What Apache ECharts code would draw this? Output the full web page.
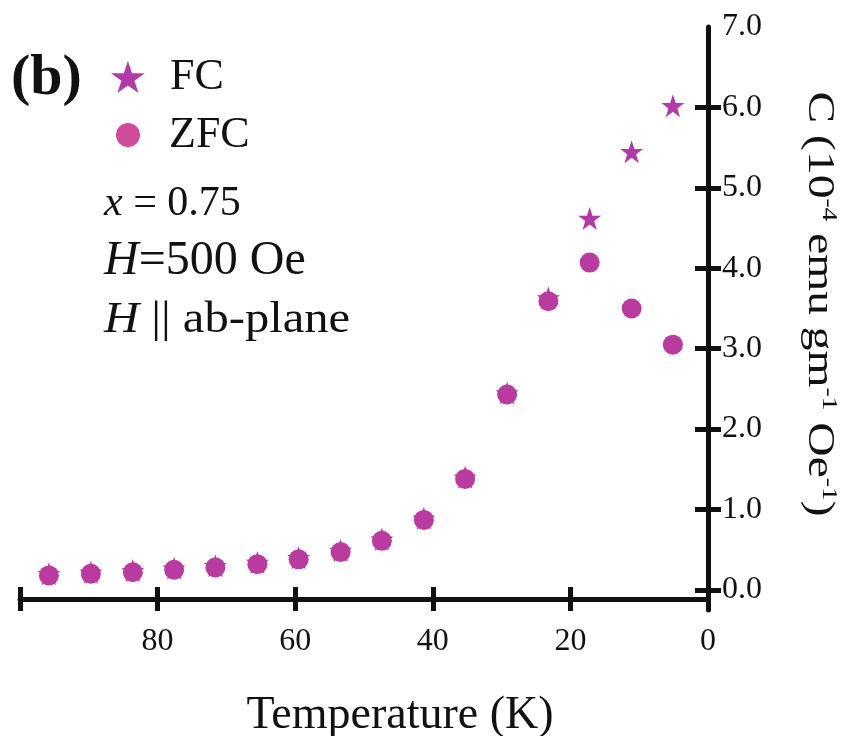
<!DOCTYPE html>
<html>
<head>
<meta charset="utf-8">
<title>FC / ZFC susceptibility</title>
<script src="https://cdn.jsdelivr.net/npm/echarts@6/dist/echarts.min.js"></script>
<style>
  html, body { margin: 0; padding: 0; background: #fff; }
  #chart { width: 847px; height: 736px; }
</style>
</head>
<body>
<div id="chart"></div>
<script>
// temperatures (K) of the measured points
var temps = [5.1, 11.1, 17.2, 23.2, 29.2, 35.3, 41.3, 47.4, 53.4, 59.5, 65.5, 71.6, 77.6, 83.6, 89.7, 95.8];
// susceptibility, 10^-4 emu gm^-1 Oe^-1
var fcVals  = [6.02, 5.45, 4.62, 3.63, 2.45, 1.40, 0.89, 0.63, 0.49, 0.40, 0.34, 0.30, 0.27, 0.24, 0.22, 0.20];
var zfcVals = [3.05, 3.50, 4.07, 3.59, 2.43, 1.38, 0.87, 0.61, 0.47, 0.38, 0.32, 0.28, 0.25, 0.22, 0.20, 0.18];
var yTicks  = [0, 1, 2, 3, 4, 5, 6];
var yLabels = [0, 1, 2, 3, 4, 5, 6, 7];

var STAR = 'path://M50,0 L61.8,35.1 L98.6,35.1 L68.8,56.8 L80.2,91.9 L50,70.2 L19.8,91.9 L31.2,56.8 L1.4,35.1 L38.2,35.1 Z';
var FONT = '"Liberation Serif", "DejaVu Serif", serif';

function pairs(xs, ys) {
    var out = [];
    for (var i = 0; i < xs.length; i++) out.push([xs[i], ys[i]]);
    return out;
}

var myChart = echarts.init(document.getElementById('chart'));

var lineStyle = { color: '#111', width: 5 };

var option = {
    backgroundColor: '#fff',
    animation: false,
    textStyle: { fontFamily: FONT, color: '#111' },
    grid: { left: 20, right: 139, top: 27, bottom: 126, outerBoundsMode: 'none', containLabel: false },
    legend: [
        {
            data: [{ name: 'FC', icon: STAR }],
            left: 106, top: 50,
            itemWidth: 34, itemHeight: 32,
            textStyle: { fontFamily: FONT, fontSize: 44, color: '#111', padding: [0, 0, 0, 20] }
        },
        {
            data: [{ name: 'ZFC', icon: 'circle', itemStyle: { color: '#CF4C9C' } }],
            left: 111, top: 108,
            itemWidth: 24, itemHeight: 24,
            textStyle: { fontFamily: FONT, fontSize: 44, color: '#111', padding: [0, 0, 0, 24] }
        }
    ],
    xAxis: [
        {
            type: 'value', min: 0, max: 100, interval: 20, inverse: true,
            position: 'bottom', offset: -11,
            name: 'Temperature (K)', nameLocation: 'middle', nameGap: 94,
            nameTextStyle: { fontFamily: FONT, fontSize: 46, color: '#111', padding: [0, 0, 0, 72] },
            axisLine: { onZero: false, lineStyle: lineStyle },
            axisTick: { length: 12, lineStyle: lineStyle },
            axisLabel: {
                margin: 27, fontSize: 32, color: '#111', fontFamily: FONT,
                formatter: function (v) { return v === 100 ? '' : String(v); }
            },
            splitLine: { show: false }
        },
        {
            type: 'value', min: 0, max: 100, interval: 20, inverse: true,
            position: 'bottom', offset: -11,
            axisLine: { show: false, onZero: false },
            axisTick: { inside: true, length: 12, lineStyle: lineStyle },
            axisLabel: { show: false },
            splitLine: { show: false }
        }
    ],
    yAxis: [
        {
            type: 'value', min: -0.25, max: 7, position: 'right', offset: 0,
            axisLine: { lineStyle: lineStyle },
            axisTick: { customValues: yTicks, length: 13, lineStyle: lineStyle },
            axisLabel: {
                customValues: yLabels, margin: 14, fontSize: 32, color: '#111', fontFamily: FONT,
                formatter: function (v) { return v.toFixed(1); }
            },
            splitLine: { show: false }
        },
        {
            type: 'value', min: -0.25, max: 7, position: 'right', offset: 0,
            axisLine: { show: false },
            axisTick: { customValues: yTicks, inside: true, length: 13, lineStyle: lineStyle },
            axisLabel: { show: false },
            splitLine: { show: false }
        }
    ],
    graphic: [
        {
            type: 'text', left: 11, top: 50,
            style: { text: '(b)', fontFamily: FONT, fontSize: 58, fontWeight: 'bold', fill: '#111' }
        },
        {
            type: 'text', x: 104, y: 204,
            style: {
                text: '{i|x} = 0.75', fontFamily: FONT, fontSize: 42, fill: '#111', verticalAlign: 'middle',
                rich: { i: { fontFamily: FONT, fontSize: 42, fontStyle: 'italic', fill: '#111' } }
            }
        },
        {
            type: 'text', x: 104, y: 261,
            style: {
                text: '{i|H}=500 Oe', fontFamily: FONT, fontSize: 48, fill: '#111', verticalAlign: 'middle',
                rich: { i: { fontFamily: FONT, fontSize: 48, fontStyle: 'italic', fill: '#111' } }
            }
        },
        {
            type: 'text', x: 104, y: 320, scaleX: 1.08,
            style: {
                text: '{i|H} || ab-plane', fontFamily: FONT, fontSize: 45, fill: '#111', verticalAlign: 'middle',
                rich: { i: { fontFamily: FONT, fontSize: 45, fontStyle: 'italic', fill: '#111' } }
            }
        },
        {
            type: 'text', x: 820, y: 304, rotation: -Math.PI / 2, scaleX: 1.25,
            style: {
                text: '{t|C (10}{s|-4}{t| emu gm}{s|-1}{t| Oe}{s|-1}{t|)}',
                align: 'center', verticalAlign: 'middle', fill: '#111',
                rich: {
                    t: { fontFamily: FONT, fontSize: 38, lineHeight: 40, fill: '#111', verticalAlign: 'bottom' },
                    s: { fontFamily: FONT, fontSize: 22, lineHeight: 40, fill: '#111', verticalAlign: 'top' }
                }
            }
        }
    ],
    series: [
        {
            name: 'FC', type: 'scatter', xAxisIndex: 0, yAxisIndex: 0,
            symbol: STAR, symbolSize: 23,
            itemStyle: { color: '#B23AA6', opacity: 1 },
            data: pairs(temps, fcVals)
        },
        {
            name: 'ZFC', type: 'scatter', xAxisIndex: 0, yAxisIndex: 0,
            symbol: 'circle', symbolSize: 20,
            itemStyle: { color: '#B93BA0', opacity: 1 },
            data: pairs(temps, zfcVals)
        }
    ]
};
myChart.setOption(option);
</script>
</body>
</html>
